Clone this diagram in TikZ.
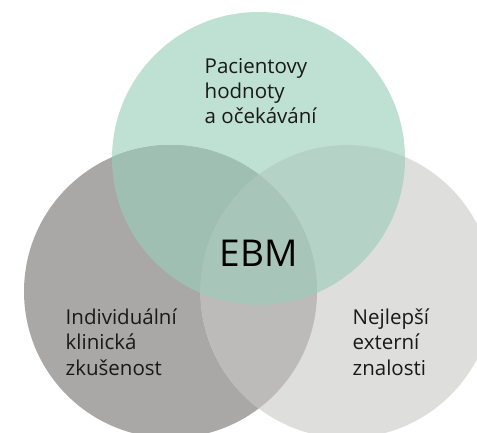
\documentclass[tikz,border=0pt]{standalone}
\usepackage{fontspec}
\setmainfont{Open Sans}
\definecolor{topc}{HTML}{BFE1D3}
\definecolor{leftc}{HTML}{A9A8A6}
\definecolor{rightc}{HTML}{DEDEDD}
\definecolor{ltc}{HTML}{9EBFB2}
\definecolor{trc}{HTML}{B4D3C6}
\definecolor{lrc}{HTML}{BCBBBA}
\definecolor{allc}{HTML}{A7C6B9}
\tikzset{
  lbl/.style={inner sep=0pt, anchor=base west, align=left, font=\fontsize{20.5}{25.3}\selectfont, text=black!90},
  big/.style={inner sep=0pt, font=\fontsize{37}{44}\selectfont, text=black},
}
\begin{document}
\begin{tikzpicture}[x=1pt,y=-1pt]
\useasboundingbox (0,0) rectangle (477,433);
\def\rr{146.5pt}
\coordinate (T) at (258.5,158.5);
\coordinate (L) at (170.5,291.5);
\coordinate (R) at (347,291.5);
\fill[topc] (T) circle[radius=\rr];
\fill[leftc] (L) circle[radius=\rr];
\fill[rightc] (R) circle[radius=\rr];
\begin{scope}
  \clip (T) circle[radius=\rr];
  \fill[ltc] (L) circle[radius=\rr];
  \fill[trc] (R) circle[radius=\rr];
\end{scope}
\begin{scope}
  \clip (L) circle[radius=\rr];
  \fill[lrc] (R) circle[radius=\rr];
  \clip (R) circle[radius=\rr];
  \fill[allc] (T) circle[radius=\rr];
\end{scope}
\node[lbl] (pac) at (204.5,124) {Pacientovy\\hodnoty\\a očekávání};
\node[lbl] (ind) at (65.5,375) {Individuální\\klinická\\zkušenost};
\node[lbl] (nej) at (352.5,375) {Nejlepší\\externí\\znalosti};
\node[big, anchor=base] (ebm) at (258.5,266.5) {EBM};
\end{tikzpicture}
\end{document}
